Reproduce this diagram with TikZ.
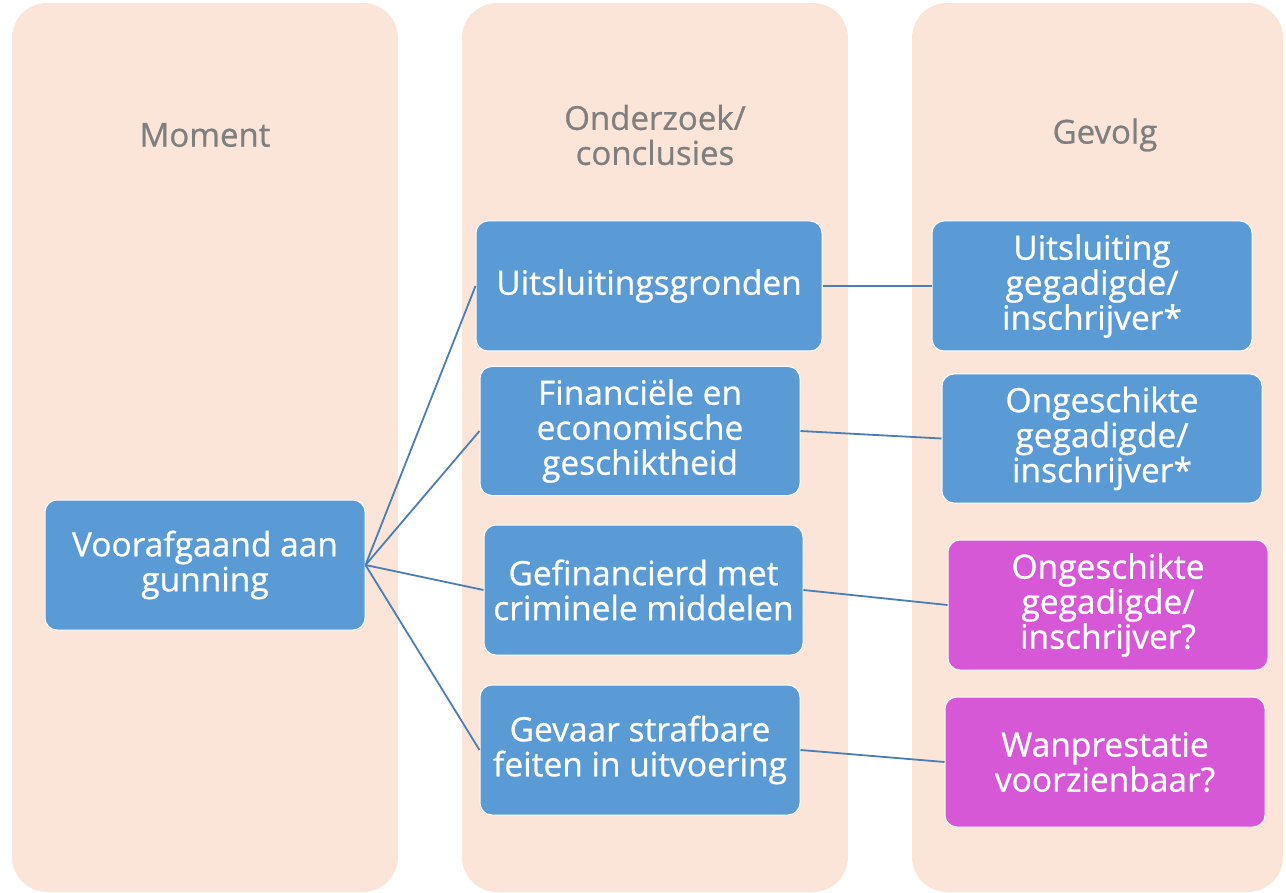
\documentclass[tikz,border=0pt]{standalone}
\usepackage{fontspec}
\setmainfont{Open Sans}
\newfontfamily\boxfont{Open Sans}[FakeBold=0.7]
\definecolor{Peach}{RGB}{250, 229, 216}
\definecolor{BoxBlue}{RGB}{91, 155, 213}
\definecolor{Orchid}{RGB}{214, 88, 214}
\definecolor{LinkBlue}{RGB}{74, 126, 180}
\definecolor{HeadGrey}{RGB}{127, 127, 127}
\usetikzlibrary{positioning}

\begin{document}
\begin{tikzpicture}[x=1pt, y=-1pt,
        column/.style={rectangle, fill=Peach, rounded corners=35pt, minimum width=386pt, minimum height=889pt, inner sep=0pt},
        head/.style={text=HeadGrey, align=center, font=\boxfont\fontsize{33}{35}\selectfont},
        block/.style={rectangle, draw=white, line width=1pt, fill=BoxBlue, text=white, align=center, rounded corners=12pt, minimum width=320pt, minimum height=130pt, inner sep=0pt, font=\boxfont\fontsize{33.5}{35}\selectfont},
        query/.style={block, fill=Orchid},
        link/.style={LinkBlue, line width=1.8pt}
    ]
        \useasboundingbox (0,0) rectangle (1286,893);

        % columns
        \node[column] (moment) at (205,447.5) {};
        \node[column] (onderzoek) at (655,447.5) {};
        \node[column, minimum width=371pt] (gevolg) at (1097.5,447.5) {};

        \node[head] (hmoment) at (205,135) {Moment};
        \node[head] (honderzoek) at (655,135) {Onderzoek/\\conclusies};
        \node[head] (hgevolg) at (1105,135) {Gevolg};

        % left
        \node[block] (vooraf) at (205,565) {Voorafgaand aan\\gunning};

        % middle
        \node[block, minimum width=346pt] (gronden) at (649,286) {Uitsluitingsgronden};
        \node[block, minimum height=129pt] (financ) at (640,431) {Financiële en\\economische\\geschiktheid};
        \node[block, minimum width=319pt] (gefin) at (643.5,590) {Gefinancierd met\\criminele middelen};
        \node[block] (gevaar) at (640,750) {Gevaar strafbare\\feiten in uitvoering};

        % right
        \node[block] (uitsl) at (1092,286) {Uitsluiting\\gegadigde/\\inschrijver*};
        \node[block, minimum height=129pt] (ongesch) at (1102,438.5) {Ongeschikte\\gegadigde/\\inschrijver*};
        \node[query] (ongeschq) at (1108,605) {Ongeschikte\\gegadigde/\\inschrijver?};
        \node[query] (wanpr) at (1105,762) {Wanprestatie\\voorzienbaar?};

        \draw[link] (vooraf.east) -- (gronden.west);
        \draw[link] (vooraf.east) -- (financ.west);
        \draw[link] (vooraf.east) -- (gefin.west);
        \draw[link] (vooraf.east) -- (gevaar.west);

        \draw[link] (gronden.east) -- (uitsl.west);
        \draw[link] (financ.east) -- (ongesch.west);
        \draw[link] (gefin.east) -- (ongeschq.west);
        \draw[link] (gevaar.east) -- (wanpr.west);
    \end{tikzpicture}
\end{document}
